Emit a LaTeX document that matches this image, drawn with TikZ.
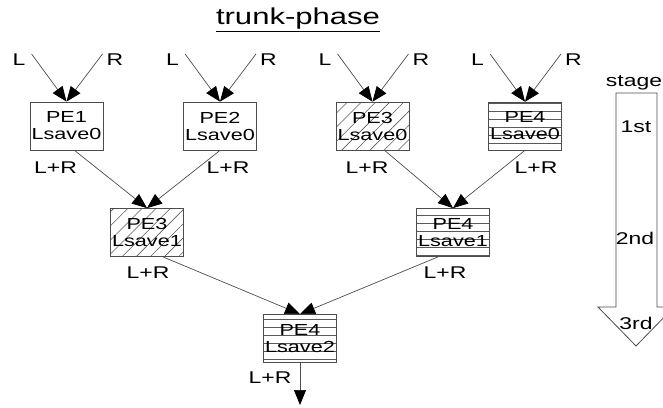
\documentclass[tikz,border=0pt]{standalone}
\usepackage{fontspec}
\setmainfont{Liberation Sans}[FakeStretch=1.35]
\usetikzlibrary{arrows.meta,patterns.meta}

\tikzset{
	pe/.style={draw=gray!60!black, line width=0.8pt, minimum width=73pt, minimum height=48pt,
		inner sep=0pt, align=center, font=\fontsize{16}{17}\selectfont},
	pethree/.style={pe, pattern={Lines[angle=45,distance=10pt,line width=0.6pt]}, pattern color=gray!70!black},
	pefour/.style={pe, pattern={Lines[angle=0,distance=8pt,line width=0.6pt]}, pattern color=gray!70!black},
	lbl/.style={font=\fontsize{17}{18}\selectfont, inner sep=0pt},
	link/.style={draw=gray!60!black, line width=0.7pt, -{Triangle[length=15pt,width=12pt,color=black]}},
}

\begin{document}
\begin{tikzpicture}[x=1pt, y=-1pt]
	\useasboundingbox (0,0) rectangle (663,407);
	%title
	\node[font=\fontsize{23}{24}\selectfont] (title) at (298,20) {\underline{trunk-phase}};
	%PEs
	\node[pe] (pe1) at (66.5,126) {PE1\\Lsave0};
	\node[pe] (pe2) at (220,126) {PE2\\Lsave0};
	\node[pethree] (pe3a) at (372.5,126) {PE3\\Lsave0};
	\node[pefour] (pe4a) at (525,126) {PE4\\Lsave0};
	\node[pethree] (pe3b) at (147,232.5) {PE3\\Lsave1};
	\node[pefour] (pe4b) at (453,232.5) {PE4\\Lsave1};
	\node[pefour] (pe4c) at (300,338.5) {PE4\\Lsave2};
	%inputs
	\foreach \n in {pe1,pe2,pe3a,pe4a}{
		\node[lbl] (\n L) at ([shift={(-47.5,-66)}]\n.center) {L};
		\node[lbl] (\n R) at ([shift={(48.5,-66)}]\n.center) {R};
		\draw[link] ([xshift=6pt]\n L.north east) -- (\n.north);
		\draw[link] ([xshift=-4pt]\n R.north west) -- (\n.north);
	}
	%sums
	\node[lbl] (sum1) at ([shift={(-11,17)}]pe1.south) {L+R};
	\node[lbl] (sum2) at ([shift={(8,17)}]pe2.south) {L+R};
	\node[lbl] (sum3) at ([shift={(-5.5,17)}]pe3a.south) {L+R};
	\node[lbl] (sum4) at ([shift={(11,17)}]pe4a.south) {L+R};
	\node[lbl] (sum5) at ([shift={(1,16)}]pe3b.south) {L+R};
	\node[lbl] (sum6) at ([shift={(-8,16)}]pe4b.south) {L+R};
	\node[lbl] (sum7) at ([shift={(-30,15)}]pe4c.south) {L+R};
	%links
	\draw[link] ([xshift=8pt]pe1.south) -- (pe3b.north);
	\draw[link] (pe2.south) -- (pe3b.north);
	\draw[link] ([xshift=12pt]pe3a.south) -- (pe4b.north);
	\draw[link] (pe4a.south) -- (pe4b.north);
	\draw[link] ([xshift=16pt]pe3b.south) -- (pe4c.north);
	\draw[link] ([xshift=-15pt]pe4b.south) -- (pe4c.north);
	\coordinate (out) at (300,405);
	\draw[link] (pe4c.south) -- (out);
	%stage arrow
	\draw[draw=gray!60!black, line width=0.8pt] (616,93) -- (657,93) -- (657,307) -- (674,307)
	-- (636,346) -- (598,307) -- (616,307) -- cycle;
	\node[lbl] (stage) at (634,83) {stage};
	\node[lbl] (st1) at (636,127) {1st};
	\node[lbl] (st2) at (635,238) {2nd};
	\node[lbl] (st3) at (636,323) {3rd};
\end{tikzpicture}
\end{document}
